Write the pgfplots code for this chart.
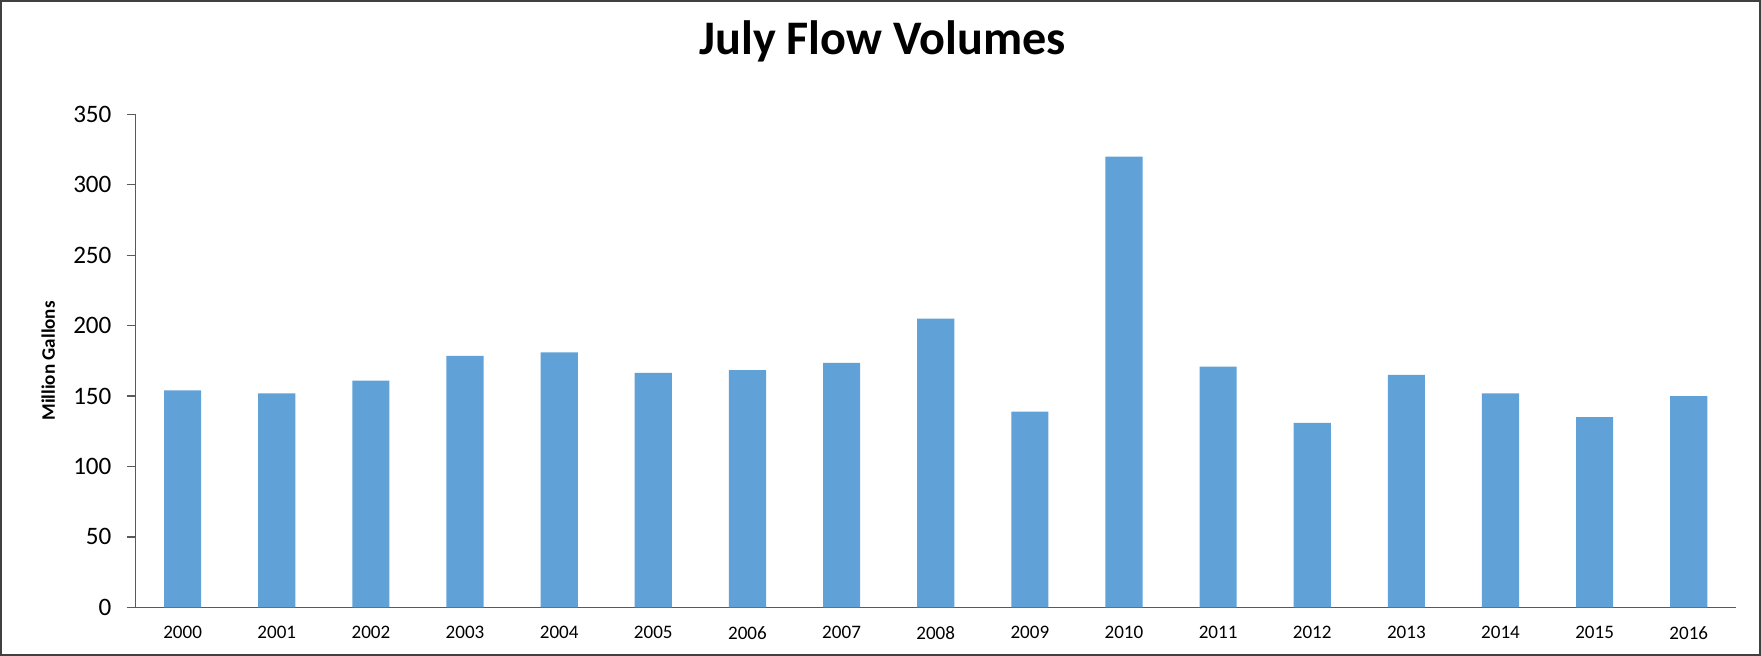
\documentclass[border=0pt]{standalone}
\usepackage{pgfplots}
\pgfplotsset{compat=1.18}
\usepackage{fontspec}
\setmainfont{Carlito}
\definecolor{barblue}{RGB}{96,161,216}
\definecolor{axisgray}{RGB}{90,90,90}
\begin{document}
\begin{tikzpicture}
\begin{axis}[
    width=797pt, height=245.5pt, scale only axis,
    ybar, bar width=18.5pt,
    xmin=-0.5, xmax=16.5, ymin=0, ymax=350,
    ytick={0,50,...,350},
    xtick=data,
    xticklabels={2000,2001,2002,2003,2004,2005,2006,2007,2008,2009,2010,2011,2012,2013,2014,2015,2016},
    axis x line*=bottom, axis y line*=left,
    axis line style={draw=axisgray, line width=0.6pt},
    tick align=outside,
    major tick length=4.5pt,
    ytick style={draw=axisgray, line width=0.6pt},
    xtick style={draw=none},
    /pgf/number format/assume math mode=true,
    yticklabel style={font=\fontsize{12.5}{14}\selectfont, xshift=-4pt},
    xticklabel style={font=\fontsize{9.5}{11}\selectfont, yshift=-1.5pt},
    title={July Flow Volumes},
    title style={font=\fontsize{24}{29}\selectfont\bfseries, at={(0.4668,1.0978)}, anchor=base},
    ylabel={Million Gallons},
    ylabel style={font=\fontsize{9.5}{11}\selectfont\bfseries, at={(-0.0546,0.5)}, anchor=center},
    clip=false,
]
\addplot[fill=barblue, draw=none] coordinates {
    (0,154) (1,152) (2,161) (3,178.5) (4,181) (5,166.5) (6,168.5) (7,173.5)
    (8,205) (9,139) (10,320) (11,171) (12,131) (13,165) (14,152) (15,135) (16,150)
};
\draw[black!75, line width=1pt] (rel axis cs:-0.0841,-0.0957) rectangle (rel axis cs:1.0151,1.2301);
\end{axis}
\end{tikzpicture}
\end{document}
